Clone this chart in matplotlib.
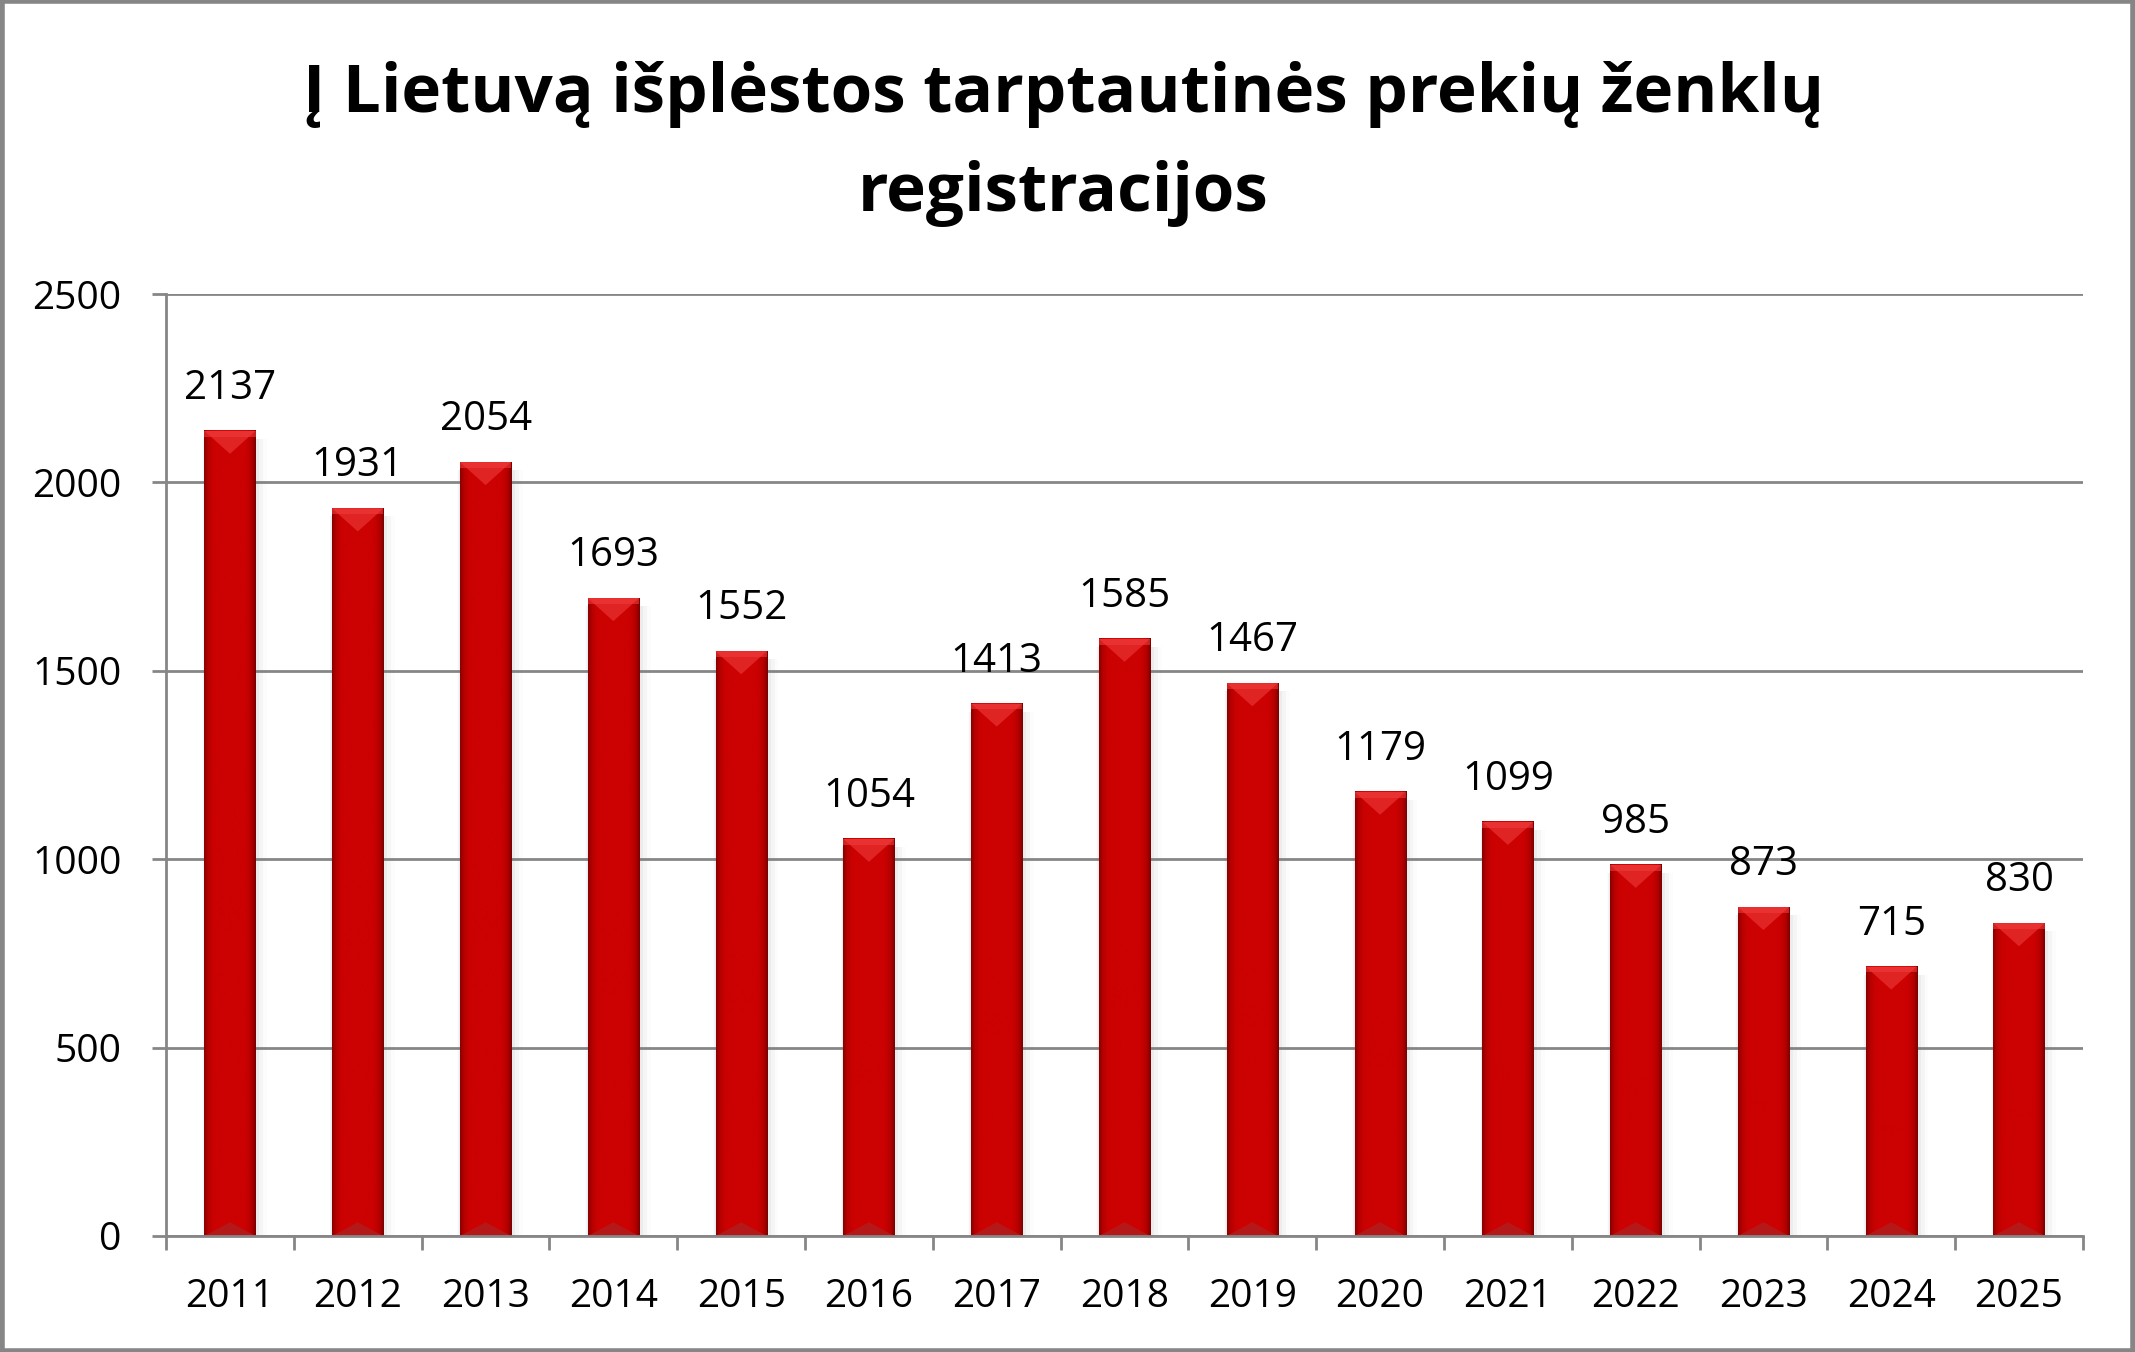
import numpy as np
import matplotlib
matplotlib.use("Agg")
import matplotlib.pyplot as plt
from matplotlib.patches import Polygon, Rectangle
from matplotlib.colors import LinearSegmentedColormap

metai = ["2011", "2012", "2013", "2014", "2015", "2016", "2017", "2018",
         "2019", "2020", "2021", "2022", "2023", "2024", "2025"]
registracijos = [2137, 1931, 2054, 1693, 1552, 1054, 1413, 1585,
                 1467, 1179, 1099, 985, 873, 715, 830]
pavadinimas = "Į Lietuvą išplėstos tarptautinės prekių ženklų\nregistracijos"

plt.rcParams['font.family'] = ['Open Sans', 'DejaVu Sans']

fig = plt.figure(figsize=(21.35, 13.52), dpi=100)
ax = fig.add_axes([0.0778, 0.0858, 0.8978, 0.6967])

x = np.arange(len(metai))
bars = ax.bar(x, registracijos, width=0.4, color="#C80000", zorder=3)

ax.set_xlim(-0.5, len(metai) - 0.5)
ax.set_ylim(0, 2500)
ax.set_yticks(range(0, 2501, 500))
ax.yaxis.grid(True, color="#868686", linewidth=2, zorder=0)

# bar shading (Excel-like bevel)
grad = LinearSegmentedColormap.from_list(
    "bev", [(0, "#8a0000"), (0.08, "#b80000"), (0.2, "#cc0202"),
            (0.8, "#cc0202"), (0.92, "#b40000"), (1, "#7a0000")])
g = np.linspace(0, 1, 128).reshape(1, -1)
ax_h_px = 0.6967 * 1352
ax_w_px = 0.8978 * 2135
for b in bars:
    bx, bw, bh = b.get_x(), b.get_width(), b.get_height()
    b.set_facecolor("none")
    # soft shadow
    for k, a in enumerate([0.08, 0.05, 0.025]):
        off = (k + 1) * 3 / ax_w_px * 15
        ax.add_patch(Rectangle((bx - off * 0.3, 0), bw + off * 1.6, bh - 8 / ax_h_px * 2500,
                               color="#808080", alpha=a, lw=0, zorder=2))
    ax.imshow(g, cmap=grad, extent=(bx, bx + bw, 0, bh), aspect="auto",
              zorder=3.1, interpolation="bicubic")
    depth = (bw * ax_w_px / 15) * 0.45 / ax_h_px * 2500
    top = Polygon([[bx, bh], [bx + bw, bh], [bx + bw / 2, bh - depth]],
                  closed=True, color="#e02424", lw=0, zorder=3.2)
    ax.add_patch(top)
    ax.add_patch(Rectangle((bx, bh - depth * 0.25), bw, depth * 0.25,
                           color="#f03a3a", alpha=0.6, lw=0, zorder=3.3))
    bot = Polygon([[bx, 0], [bx + bw, 0], [bx + bw / 2, depth * 0.6]],
                  closed=True, color="#b51818", lw=0, zorder=3.2)
    ax.add_patch(bot)

ax.set_xlim(-0.5, len(metai) - 0.5)
ax.set_ylim(0, 2500)

for xi, v in zip(x, registracijos):
    ax.annotate(str(v), (xi, v), xytext=(0, 32), textcoords="offset pixels",
                ha="center", va="baseline", fontsize=29, zorder=5)

ax.set_xticks(x)
ax.set_xticklabels(metai)
ax.set_xticks(np.arange(-0.5, len(metai), 1), minor=True)
ax.tick_params(axis="x", which="major", length=0, pad=30, labelsize=28)
ax.tick_params(axis="x", which="minor", length=10, width=2, color="#868686", direction="out")
ax.tick_params(axis="y", length=10, width=2, color="#868686", pad=22, labelsize=28)

for s in ["top", "right"]:
    ax.spines[s].set_visible(False)
for s in ["left", "bottom"]:
    ax.spines[s].set_color("#868686")
    ax.spines[s].set_linewidth(2)
    ax.spines[s].set_zorder(4)

fig.text(0.498, 0.844, pavadinimas, ha="center", va="baseline",
         fontsize=48.5, fontweight="bold", linespacing=1.62, multialignment="center")

fig.patches.append(Rectangle((0.001, 0.001), 0.998, 0.998, transform=fig.transFigure,
                             fill=False, edgecolor="#868686", linewidth=4))

fig.savefig("out.png", dpi=100)
